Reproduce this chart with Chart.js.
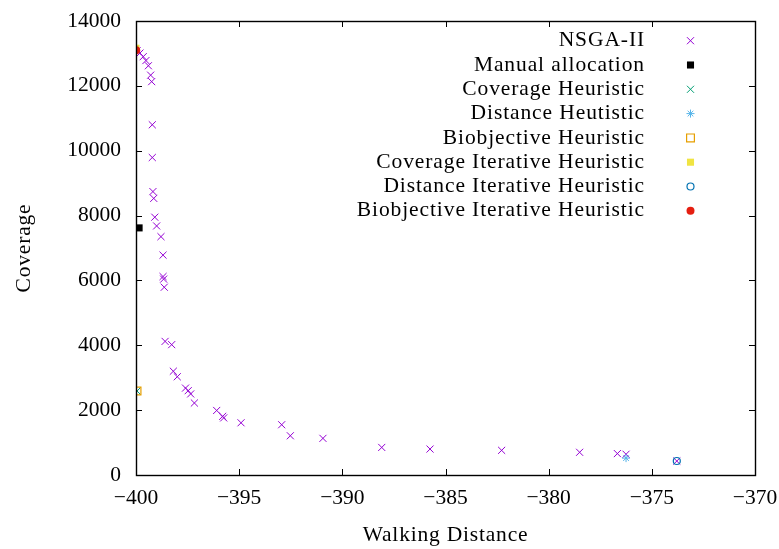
<!DOCTYPE html>
<html><head><meta charset="utf-8">
<script src="https://cdn.jsdelivr.net/npm/chart.js@4.4.1/dist/chart.umd.min.js"></script>
<style>html,body{margin:0;padding:0;background:#fff}</style>
</head><body>
<canvas id="c" width="779" height="549"></canvas>
<script>
const xTickValues = [-400, -395, -390, -385, -380, -375, -370];
const xTickLabels = ['\u2212400', '\u2212395', '\u2212390', '\u2212385', '\u2212380', '\u2212375', '\u2212370'];
const yTickValues = [0, 2000, 4000, 6000, 8000, 10000, 12000, 14000];
const yTickLabels = ['0', '2000', '4000', '6000', '8000', '10000', '12000', '14000'];
const xTitle = 'Walking Distance';
const yTitle = 'Coverage';
const seriesNames = ['NSGA-II', 'Manual allocation', 'Coverage Heuristic', 'Distance Heutistic',
  'Biobjective Heuristic', 'Coverage Iterative Heuristic', 'Distance Iterative Heuristic',
  'Biobjective Iterative Heuristic'];

const nsgaX = [-399.95, -399.81, -399.65, -399.52, -399.40, -399.29, -399.24, -399.21, -399.21, -399.18,
  -399.14, -399.09, -399.00, -398.79, -398.69, -398.69, -398.66, -398.63, -398.59, -398.27,
  -398.19, -398.00, -397.60, -397.47, -397.35, -397.17, -396.09, -395.80, -395.75, -394.91,
  -392.94, -392.52, -390.94, -388.09, -385.75, -382.28, -378.50, -376.67, -376.25, -373.79];
const nsgaY = [13080, 13010, 12900, 12780, 12620, 12330, 12130, 10800, 9790, 8740,
  8530, 7950, 7680, 7350, 6780, 6120, 6040, 5790, 4120, 4020,
  3200, 3030, 2680, 2600, 2500, 2220, 1990, 1810, 1760, 1610,
  1550, 1210, 1130, 850, 800, 760, 700, 660, 640, 430];
const manualX = [-399.85];            const manualY = [7620];
const covHeurX = [-399.95];           const covHeurY = [2590];
const distHeurX = [-376.25];          const distHeurY = [520];
const bioHeurX = [-399.95];           const bioHeurY = [2590];
const covIterX = [-400.0];            const covIterY = [13160];
const distIterX = [-373.79];          const distIterY = [432];
const bioIterX = [-399.99];           const bioIterY = [13100];

const seriesX = [nsgaX, manualX, covHeurX, distHeurX, bioHeurX, covIterX, distIterX, bioIterX];
const seriesY = [nsgaY, manualY, covHeurY, distHeurY, bioHeurY, covIterY, distIterY, bioIterY];
const styles = [
  {pointStyle: 'crossRot', pointRadius: 5, backgroundColor: '#9400D3', borderColor: '#9400D3', borderWidth: 1},
  {pointStyle: 'rect', pointRadius: 5, backgroundColor: '#000000', borderColor: '#000000', borderWidth: 0},
  {pointStyle: 'crossRot', pointRadius: 5, backgroundColor: '#009E73', borderColor: '#009E73', borderWidth: 1},
  {pointStyle: 'star', pointRadius: 4, backgroundColor: '#56B4E9', borderColor: '#56B4E9', borderWidth: 1},
  {pointStyle: 'rect', pointRadius: 5.5, backgroundColor: 'rgba(0,0,0,0)', borderColor: '#E69F00', borderWidth: 1.2},
  {pointStyle: 'rect', pointRadius: 5, backgroundColor: '#F0E442', borderColor: '#F0E442', borderWidth: 0},
  {pointStyle: 'circle', pointRadius: 3.5, backgroundColor: 'rgba(0,0,0,0)', borderColor: '#0072B2', borderWidth: 1.2},
  {pointStyle: 'circle', pointRadius: 4, backgroundColor: '#E51E10', borderColor: '#E51E10', borderWidth: 0}
];

const datasets = seriesNames.map((name, i) => Object.assign({
  label: name,
  data: seriesX[i].map((x, j) => ({x: x, y: seriesY[i][j]})),
  order: seriesNames.length - i,
  pointHoverRadius: styles[i].pointRadius
}, styles[i]));

const FONT = '"Liberation Serif", "DejaVu Serif", serif';

const decor = {
  id: 'decor',
  afterDraw(chart) {
    const ctx = chart.ctx, a = chart.chartArea, xs = chart.scales.x, ys = chart.scales.y;
    ctx.save();
    ctx.strokeStyle = '#000';
    ctx.lineWidth = 1;
    ctx.beginPath();
    xTickValues.forEach(v => {
      const p = Math.round(xs.getPixelForValue(v)) + 0.5;
      ctx.moveTo(p, a.bottom); ctx.lineTo(p, a.bottom - 6);
      ctx.moveTo(p, a.top); ctx.lineTo(p, a.top + 6);
    });
    yTickValues.forEach(v => {
      const p = Math.round(ys.getPixelForValue(v)) + 0.5;
      ctx.moveTo(a.left, p); ctx.lineTo(a.left + 6, p);
      ctx.moveTo(a.right, p); ctx.lineTo(a.right - 6, p);
    });
    ctx.stroke();
    ctx.lineWidth = 1.4;
    ctx.strokeRect(a.left + 0.5, a.top + 0.5, a.right - a.left, a.bottom - a.top);

    ctx.fillStyle = '#000';
    ctx.font = '21.5px ' + FONT;
    ctx.letterSpacing = '0.8px';
    ctx.textAlign = 'center';
    ctx.textBaseline = 'middle';
    ctx.fillText(xTitle, (a.left + a.right) / 2, 535);
    ctx.save();
    ctx.translate(24, (a.top + a.bottom) / 2);
    ctx.rotate(-Math.PI / 2);
    ctx.fillText(yTitle, 0, 0);
    ctx.restore();

    ctx.letterSpacing = '0.9px';
    ctx.textAlign = 'right';
    chart.data.datasets.forEach((ds, i) => {
      const ty = 40.7 + i * 24.3;
      ctx.fillStyle = '#000';
      ctx.fillText(ds.label, 645, ty);
      ctx.fillStyle = ds.backgroundColor;
      ctx.strokeStyle = ds.borderColor;
      ctx.lineWidth = ds.borderWidth;
      Chart.helpers.drawPoint(ctx, {pointStyle: ds.pointStyle, radius: ds.pointRadius, rotation: 0, borderWidth: ds.borderWidth}, 690.5, ty);
    });
    ctx.restore();
  }
};

new Chart(document.getElementById('c'), {
  type: 'scatter',
  data: {datasets: datasets},
  options: {
    responsive: false,
    animation: false,
    devicePixelRatio: 1,
    layout: {padding: {top: 21, right: 24, left: 0, bottom: 0}},
    plugins: {legend: {display: false}, tooltip: {enabled: false}},
    scales: {
      x: {
        type: 'linear', min: -400, max: -370,
        afterBuildTicks: axis => { axis.ticks = xTickValues.map(v => ({value: v})); },
        ticks: {callback: (v, i) => xTickLabels[i], font: {family: FONT, size: 21.5}, color: '#000', padding: 10, maxRotation: 0, autoSkip: false},
        grid: {display: false, drawTicks: false},
        border: {display: false},
        afterFit: axis => { axis.height = 74; axis.paddingLeft = 0; axis.paddingRight = 0; }
      },
      y: {
        type: 'linear', min: 0, max: 14000,
        afterBuildTicks: axis => { axis.ticks = yTickValues.map(v => ({value: v})); },
        ticks: {callback: (v, i) => yTickLabels[i], font: {family: FONT, size: 21.5}, color: '#000', padding: 15, autoSkip: false},
        grid: {display: false, drawTicks: false},
        border: {display: false},
        afterFit: axis => { axis.width = 136; axis.paddingTop = 0; axis.paddingBottom = 0; }
      }
    }
  },
  plugins: [decor]
});
</script>
</body></html>
